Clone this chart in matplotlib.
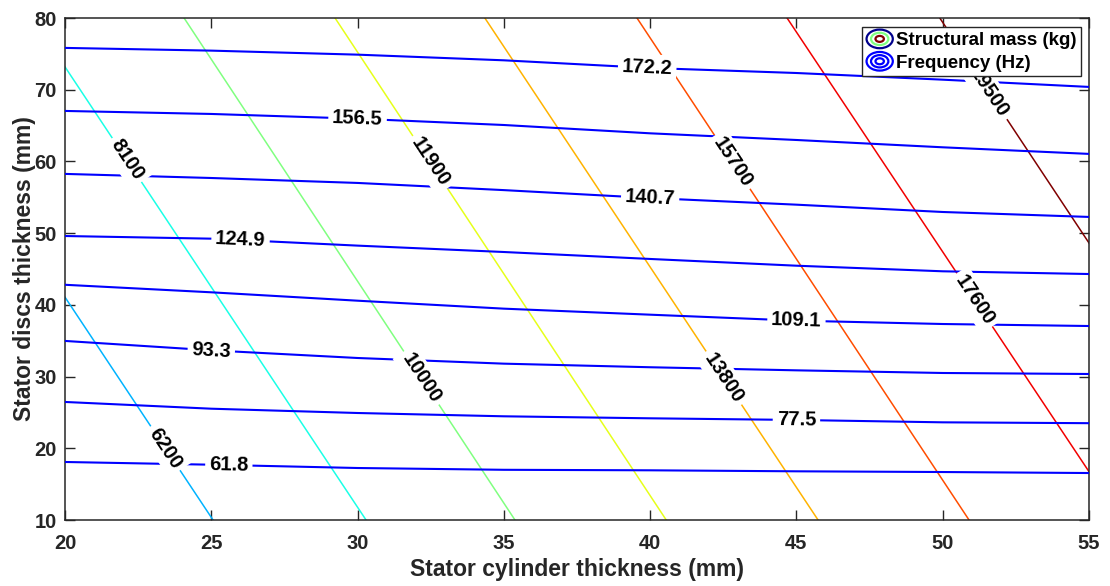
import numpy as np
import matplotlib
matplotlib.use("Agg")
import matplotlib.pyplot as plt
from matplotlib.legend_handler import HandlerBase
from matplotlib.patches import Ellipse
from matplotlib.lines import Line2D

plt.rcParams['font.family'] = ['Liberation Sans', 'DejaVu Sans']
plt.rcParams['font.weight'] = 'bold'

# ---------------- data ----------------
# Structural mass contours (kg): straight lines, x at y=10 and at y=80
mass_levels = [6200, 8100, 10000, 11900, 13800, 15700, 17600, 19500]
mass_x_at_y10 = [25.06, 30.29, 35.38, 40.55, 45.74, 50.90, 56.10, 61.28]
mass_x_at_y80 = [13.66, 18.89, 24.07, 29.23, 34.35, 39.55, 44.68, 49.90]
mass_label_y = [20.0, 60.2, 29.8, 59.9, 29.8, 59.9, 40.7, 69.6]

# Frequency contours (Hz): y sampled at these x positions
freq_x = [20, 25, 30, 35, 40, 45, 50, 55]
freq_levels = [61.8, 77.5, 93.3, 109.1, 124.9, 140.7, 156.5, 172.2]
freq_y_61_8 = [18.09, 17.71, 17.25, 17.00, 16.93, 16.79, 16.69, 16.55]
freq_y_77_5 = [26.46, 25.52, 24.92, 24.46, 24.18, 23.95, 23.62, 23.50]
freq_y_93_3 = [34.97, 33.66, 32.59, 31.80, 31.30, 30.87, 30.50, 30.36]
freq_y_109_1 = [42.80, 41.75, 40.58, 39.47, 38.63, 37.80, 37.33, 37.05]
freq_y_124_9 = [49.60, 49.23, 48.26, 47.37, 46.40, 45.46, 44.68, 44.30]
freq_y_140_7 = [58.26, 57.69, 57.00, 56.00, 54.90, 53.97, 52.95, 52.26]
freq_y_156_5 = [67.04, 66.62, 65.96, 65.08, 63.92, 62.99, 61.97, 61.05]
freq_y_172_2 = [75.83, 75.45, 74.89, 74.10, 73.03, 72.33, 71.40, 70.39]
freq_label_x = [25.6, 45.0, 25.0, 45.0, 26.0, 40.0, 30.0, 39.9]

xticks = [20, 25, 30, 35, 40, 45, 50, 55]
yticks = [10, 20, 30, 40, 50, 60, 70, 80]

# ---------------- style ----------------
mass_colors = [(0.0, 0.7, 1.0), (0.1, 1.0, 0.9), (0.5, 1.0, 0.5), (0.9, 1.0, 0.1),
               (1.0, 0.7, 0.0), (1.0, 0.3, 0.0), (0.95, 0.0, 0.0), (0.5, 0.0, 0.0)]
freq_color = (0.0, 0.0, 1.0)
axis_color = '#262626'
fs_lab = 14.5
fs_leg = 13.5

fig = plt.figure(figsize=(11.10, 5.86), dpi=100)
ax = fig.add_axes([65 / 1110, 66 / 586, 1024 / 1110, 502 / 586])
ax.set_xlim(20, 55)
ax.set_ylim(10, 80)

def disp_angle(p0, p1):
    a = ax.transData.transform(p0)
    b = ax.transData.transform(p1)
    ang = np.degrees(np.arctan2(b[1] - a[1], b[0] - a[0]))
    if ang > 90:
        ang -= 180
    if ang < -90:
        ang += 180
    return ang

label_kw = dict(ha='center', va='center', fontsize=fs_lab, fontweight='bold', color='black',
                bbox=dict(boxstyle='square,pad=0.2', facecolor='white', edgecolor='none'),
                rotation_mode='anchor', zorder=4)

# mass contours
for lev, x10, x80, ly, c in zip(mass_levels, mass_x_at_y10, mass_x_at_y80, mass_label_y, mass_colors):
    ax.plot([x10, x80], [10, 80], color=c, lw=1.1, zorder=2)
    lx = x10 + (x80 - x10) * (ly - 10) / 70.0
    ang = disp_angle((x10, 10), (x80, 80))
    ax.text(lx, ly, f"{lev}", rotation=ang, **label_kw)

# frequency contours
freq_series = [freq_y_61_8, freq_y_77_5, freq_y_93_3, freq_y_109_1,
               freq_y_124_9, freq_y_140_7, freq_y_156_5, freq_y_172_2]
for lev, ys, lx in zip(freq_levels, freq_series, freq_label_x):
    ax.plot(freq_x, ys, color=freq_color, lw=1.5, zorder=3)
    ly = np.interp(lx, freq_x, ys)
    y1 = np.interp(lx - 1.5, freq_x, ys)
    y2 = np.interp(lx + 1.5, freq_x, ys)
    ang = disp_angle((lx - 1.5, y1), (lx + 1.5, y2))
    ax.text(lx, ly, f"{lev}", rotation=ang, **label_kw)

# axes styling
ax.set_xticks(xticks)
ax.set_yticks(yticks)
ax.tick_params(direction='in', length=7.5, width=1.0, colors=axis_color,
               top=True, right=True, labelsize=14.5)
ax.tick_params(axis='x', pad=10)
ax.tick_params(axis='y', pad=6)
for lab in ax.get_xticklabels() + ax.get_yticklabels():
    lab.set_fontweight('bold')
for s in ax.spines.values():
    s.set_color(axis_color)
    s.set_linewidth(1.1)
ax.set_xlabel('Stator cylinder thickness (mm)', fontsize=16.5, fontweight='bold', color=axis_color, labelpad=4)
ax.set_ylabel('Stator discs thickness (mm)', fontsize=16.5, fontweight='bold', color=axis_color, labelpad=-1)

# legend with contour-like icons
class ContourIcon(HandlerBase):
    def __init__(self, colors):
        super().__init__()
        self.colors = colors

    def create_artists(self, legend, orig_handle, xdescent, ydescent, width, height, fontsize, trans):
        cx = width / 2 - xdescent
        cy = height / 2 - ydescent
        arts = []
        for i, c in enumerate(self.colors):
            s = 1.0 - 0.34 * i
            e = Ellipse((cx, cy), width * s, height * 1.3 * s, fill=False,
                        edgecolor=c, lw=1.6, transform=trans)
            arts.append(e)
        return arts

h_mass = Line2D([], [])
h_freq = Line2D([], [])
leg = ax.legend([h_mass, h_freq], ['Structural mass (kg)', 'Frequency (Hz)'],
                handler_map={h_mass: ContourIcon([(0.0, 0.0, 0.55), (0.5, 1.0, 0.5), (0.5, 0.0, 0.0)]),
                             h_freq: ContourIcon([freq_color, freq_color, freq_color])},
                loc='upper right', bbox_to_anchor=(0.992, 0.982), borderaxespad=0,
                fancybox=False, framealpha=1, edgecolor=axis_color,
                prop=dict(size=fs_leg, weight='bold'), handlelength=1.4, handleheight=0.8,
                handletextpad=0.15, borderpad=0.25, labelspacing=0.25)
leg.get_frame().set_linewidth(1.0)
leg.set_zorder(10)

fig.savefig('out.png', dpi=100)
